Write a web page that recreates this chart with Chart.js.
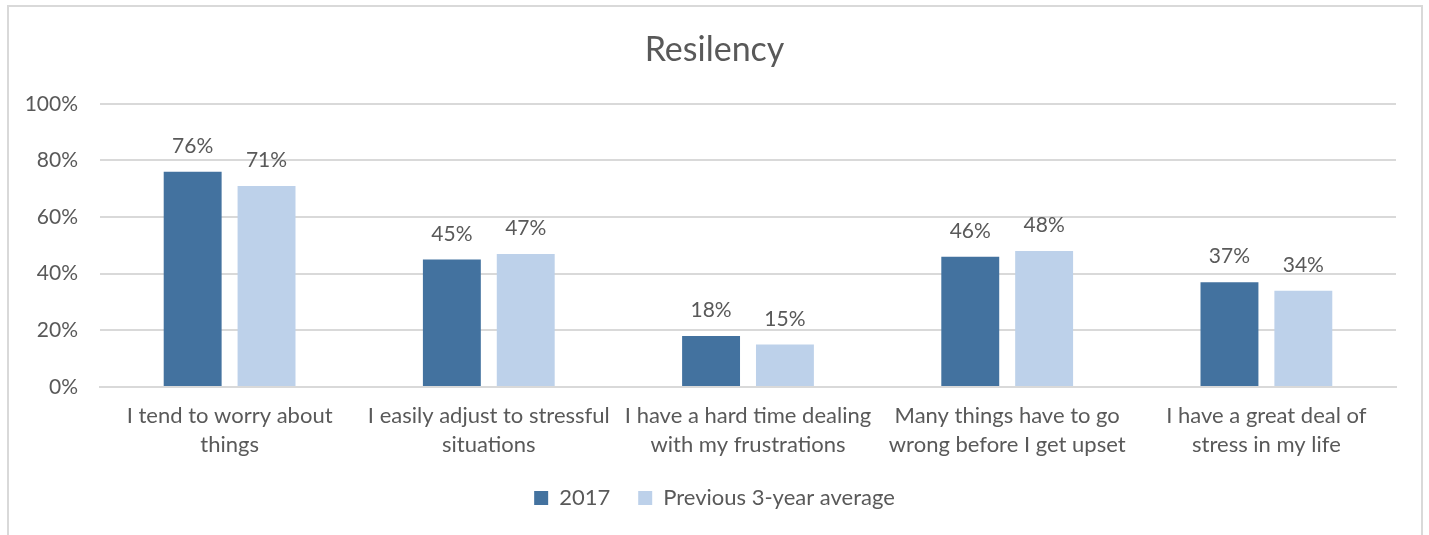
<!DOCTYPE html>
<html>
<head>
<meta charset="utf-8">
<script src="https://cdn.jsdelivr.net/npm/chart.js@4"></script>
<style>
  html, body { margin: 0; padding: 0; background: #fff; }
  #wrap { position: relative; width: 1429px; height: 535px; overflow: hidden; }
  #frame { position: absolute; left: 7px; top: 5px; width: 1416px; height: 600px; border: 2px solid #d9d9d9; box-sizing: border-box; }
  canvas { position: absolute; left: 0; top: 0; }
</style>
</head>
<body>
<div id="wrap">
  <div id="frame"></div>
  <canvas id="c" width="1429" height="535"></canvas>
</div>
<script>
const categories = [
  ["I tend to worry about", "things"],
  ["I easily adjust to stressful", "situations"],
  ["I have a hard time dealing", "with my frustrations"],
  ["Many things have to go", "wrong before I get upset"],
  ["I have a great deal of", "stress in my life"]
];
const series2017 = [76, 45, 18, 46, 37];
const seriesPrev = [71, 47, 15, 48, 34];
const yTicks = [0, 20, 40, 60, 80, 100];
const FONT = "Lato, 'Open Sans', sans-serif";
const TXT = "#595959";

const valueLabels = {
  id: 'valueLabels',
  afterDatasetsDraw(chart) {
    const ctx = chart.ctx;
    ctx.save();
    ctx.font = "21px " + FONT;
    ctx.fillStyle = TXT;
    ctx.textAlign = 'center';
    ctx.textBaseline = 'bottom';
    chart.data.datasets.forEach((ds, i) => {
      chart.getDatasetMeta(i).data.forEach((bar, j) => {
        ctx.fillText(ds.data[j] + '%', bar.x, bar.y - 15);
      });
    });
    ctx.restore();
  }
};

new Chart(document.getElementById('c'), {
  type: 'bar',
  data: {
    labels: categories,
    datasets: [
      { label: '2017', data: series2017, backgroundColor: '#43729f', categoryPercentage: 0.57, barPercentage: 0.784 },
      { label: 'Previous 3-year average', data: seriesPrev, backgroundColor: '#bdd1ea', categoryPercentage: 0.57, barPercentage: 0.784 }
    ]
  },
  options: {
    responsive: false,
    animation: false,
    layout: { padding: { left: 9, right: 9, top: 0, bottom: 16 } },
    plugins: {
      title: {
        display: true, text: 'Resilency', color: TXT,
        font: { family: FONT, size: 34, weight: 'normal' },
        padding: { top: 30, bottom: 33 }
      },
      legend: {
        position: 'bottom',
        labels: {
          color: TXT, font: { family: FONT, size: 22 },
          boxWidth: 14, boxHeight: 14, padding: 28
        }
      },
      tooltip: { enabled: false }
    },
    scales: {
      x: {
        afterFit(s) { s.height = 72; },
        grid: { display: false, drawTicks: false },
        border: { display: true, color: '#d9d9d9', width: 2 },
        ticks: { color: TXT, font: { family: FONT, size: 22, lineHeight: 1.3 }, padding: 15, maxRotation: 0, autoSkip: false }
      },
      y: {
        min: 0, max: 100,
        afterFit(s) { s.width = 91; },
        afterBuildTicks(s) { s.ticks = yTicks.map(v => ({ value: v })); },
        grid: { color: '#d9d9d9', lineWidth: 2, drawTicks: false },
        border: { display: false },
        ticks: { color: TXT, font: { family: FONT, size: 21 }, padding: 22, callback: v => v + '%' }
      },
      yRight: {
        position: 'right',
        min: 0, max: 100,
        afterFit(s) { s.width = 24; },
        grid: { display: false, drawTicks: false },
        border: { display: false },
        ticks: { display: false }
      }
    }
  },
  plugins: [valueLabels]
});
</script>
</body>
</html>
